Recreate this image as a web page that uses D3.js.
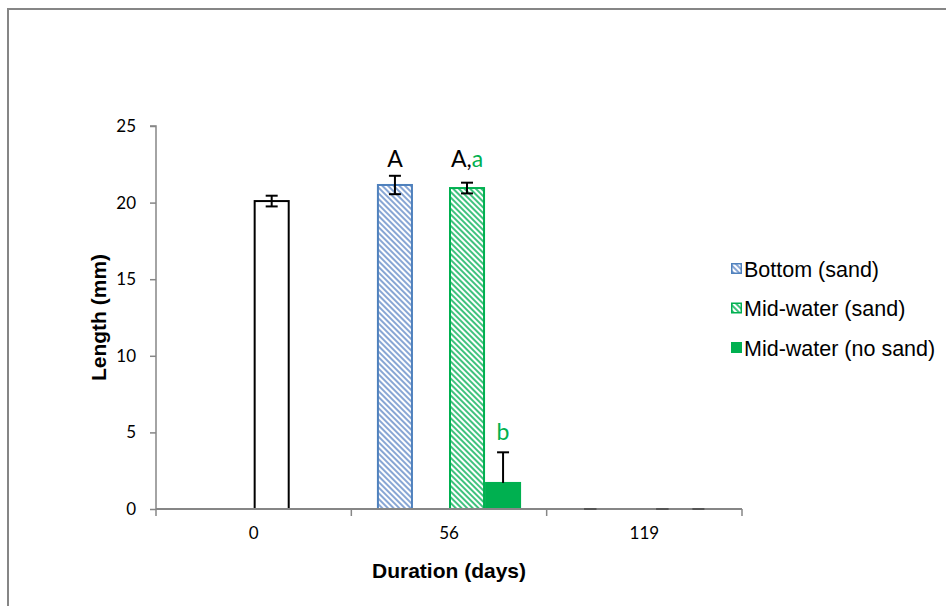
<!DOCTYPE html>
<html><head><meta charset="utf-8">
<script src="https://cdn.jsdelivr.net/npm/d3@7"></script>
<style>body{margin:0;background:#fff}svg{display:block}</style>
</head><body>
<svg id="c" width="946" height="606"></svg>
<script>
const categories = ["0", "56", "119"];
const slots = ["Bottom (sand)", "(unused)", "Mid-water (sand)", "Mid-water (no sand)"];
// values per series per category (null = no bar)
const initialVals   = [20.1, null, null];
const initialErr    = [0.35, null, null];
const bottomVals    = [null, 21.15, 0];
const bottomErr     = [null, 0.6, 0];
const midSandVals   = [null, 20.95, 0];
const midSandErr    = [null, 0.35, 0];
const midNoSandVals = [null, 1.7, 0];
const midNoSandErr  = [null, 2.0, 0];
const yTicks = [0, 5, 10, 15, 20, 25];
const letters = [
  {cat: "56", slot: "Bottom (sand)", parts: [["A", "#000"]], y: 22.3},
  {cat: "56", slot: "Mid-water (sand)", parts: [["A,", "#000"], ["a", "#00B050"]], y: 22.3},
  {cat: "56", slot: "Mid-water (no sand)", parts: [["b", "#00B050"]], y: 4.5}
];

const svg = d3.select("#c");
const defs = svg.append("defs");
function hatch(id, color, bg) {
  const p = defs.append("pattern").attr("id", id).attr("patternUnits", "userSpaceOnUse")
    .attr("width", 4).attr("height", 4).attr("patternTransform", "rotate(45)");
  p.append("rect").attr("width", 4).attr("height", 4).attr("fill", bg);
  p.append("rect").attr("width", 4).attr("height", 2).attr("fill", color);
}
hatch("hb", "#88A6D4", "#ffffff");
hatch("hg", "#40C27E", "#ffffff");

const tickFont = "Lato, 'Open Sans', sans-serif";
const arial = "'Liberation Sans', Arial, sans-serif";

// outer border
svg.append("rect").attr("x", 8).attr("y", 9).attr("width", 960).attr("height", 620)
  .attr("fill", "none").attr("stroke", "#868686").attr("stroke-width", 2);

const m = {l: 156, r: 742, t: 126, b: 509};
const x = d3.scaleBand().domain(categories).range([m.l, m.r]);
const xs = d3.scaleBand().domain(slots).range([0, x.bandwidth()]).paddingOuter(0.71).paddingInner(0);
const y = d3.scaleLinear().domain([0, 25]).range([m.b, m.t]);

// y axis
const ya = svg.append("g").attr("transform", `translate(${m.l},0)`)
  .call(d3.axisLeft(y).tickValues(yTicks).tickSize(6).tickPadding(14));
ya.select(".domain").attr("stroke", "#868686").attr("stroke-width", 1.5).attr("d", `M-6,${m.t}H0V${m.b}`);
ya.selectAll(".tick line").attr("stroke", "#868686").attr("stroke-width", 1.5);
ya.selectAll(".tick text").attr("font-family", tickFont).attr("font-size", 17).attr("fill", "#000");

// x axis
const xa = svg.append("g").attr("transform", `translate(0,${m.b})`)
  .call(d3.axisBottom(x).tickSize(0).tickPadding(18));
xa.select(".domain").remove();
xa.selectAll(".tick text").attr("font-family", tickFont).attr("font-size", 17).attr("fill", "#000");
const bounds = categories.map(c => x(c)).concat([x(categories[categories.length-1]) + x.bandwidth()]);

const series = [
  {slot: "Mid-water (sand)", vals: initialVals, err: initialErr, fill: "#fff", stroke: "#000"},
  {slot: "Bottom (sand)", vals: bottomVals, err: bottomErr, fill: "url(#hb)", stroke: "#4F81BD"},
  {slot: "Mid-water (sand)", vals: midSandVals, err: midSandErr, fill: "url(#hg)", stroke: "#00B050"},
  {slot: "Mid-water (no sand)", vals: midNoSandVals, err: midNoSandErr, fill: "#00B050", stroke: "#00B050"}
];

series.forEach(s => {
  const d = categories.map((c, i) => ({c, v: s.vals[i], e: s.err[i]})).filter(d => d.v !== null);
  svg.append("g").selectAll("rect").data(d.filter(d => d.v > 0)).join("rect")
    .attr("x", d => x(d.c) + xs(s.slot) + 1)
    .attr("width", xs.bandwidth() - 2)
    .attr("y", d => y(d.v))
    .attr("height", d => y(0) - y(d.v))
    .attr("fill", s.fill).attr("stroke", s.stroke).attr("stroke-width", 2);
});

// x axis line drawn over bar bottoms
svg.append("path").attr("d", `M${m.l},${m.b}H${m.r}`).attr("stroke", "#868686").attr("stroke-width", 2).attr("fill", "none");
svg.append("g").selectAll("line").data(bounds).join("line")
  .attr("x1", d => d).attr("x2", d => d).attr("y1", m.b).attr("y2", m.b + 7)
  .attr("stroke", "#868686").attr("stroke-width", 1.5);

// error bars
series.forEach(s => {
  const d = categories.map((c, i) => ({c, v: s.vals[i], e: s.err[i]})).filter(d => d.v !== null);
  const g = svg.append("g");
  d.forEach(p => {
    const cx = x(p.c) + xs(s.slot) + xs.bandwidth() / 2;
    const lo = s.slot === "Mid-water (no sand)" ? p.v : p.v - p.e;
    const hi = p.v + p.e;
    const col = p.v === 0 ? "#555" : "#000";
    g.append("line").attr("x1", cx).attr("x2", cx).attr("y1", y(lo)).attr("y2", y(hi)).attr("stroke", col).attr("stroke-width", 2);
    g.append("line").attr("x1", cx - 6).attr("x2", cx + 6).attr("y1", y(hi)).attr("y2", y(hi)).attr("stroke", col).attr("stroke-width", 2);
    if (s.slot !== "Mid-water (no sand)")
      g.append("line").attr("x1", cx - 6).attr("x2", cx + 6).attr("y1", y(lo)).attr("y2", y(lo)).attr("stroke", col).attr("stroke-width", 2);
  });
});

// significance letters
letters.forEach(l => {
  const cx = x(l.cat) + xs(l.slot) + xs.bandwidth() / 2;
  const t = svg.append("text").attr("x", cx).attr("y", y(l.y)).attr("text-anchor", "middle")
    .attr("font-family", tickFont).attr("font-size", 23);
  l.parts.forEach(p => t.append("tspan").attr("fill", p[1]).text(p[0]));
});

// axis titles
svg.append("text").attr("transform", `translate(106,${(m.t + m.b) / 2}) rotate(-90)`)
  .attr("text-anchor", "middle").attr("font-family", arial)
  .attr("font-weight", "bold").attr("font-size", 21).text("Length (mm)");
svg.append("text").attr("x", (m.l + m.r) / 2).attr("y", 578).attr("text-anchor", "middle")
  .attr("font-family", arial)
  .attr("font-weight", "bold").attr("font-size", 21).text("Duration (days)");

// legend
const legendItems = [
  {name: "Bottom (sand)", fill: "url(#hb)", stroke: "#4F81BD"},
  {name: "Mid-water (sand)", fill: "url(#hg)", stroke: "#00B050"},
  {name: "Mid-water (no sand)", fill: "#00B050", stroke: "#00B050"}
];
const lg = svg.append("g").selectAll("g").data(legendItems).join("g")
  .attr("transform", (d, i) => `translate(731,${269 + i * 39.5})`);
lg.append("rect").attr("x", 0.75).attr("y", -5.25).attr("width", 9.5).attr("height", 9.5)
  .attr("fill", d => d.fill).attr("stroke", d => d.stroke).attr("stroke-width", 1.5);
lg.append("text").attr("x", 13).attr("y", 7.5).attr("font-family", arial)
  .attr("font-size", 21.5).text(d => d.name);
</script>
</body></html>
